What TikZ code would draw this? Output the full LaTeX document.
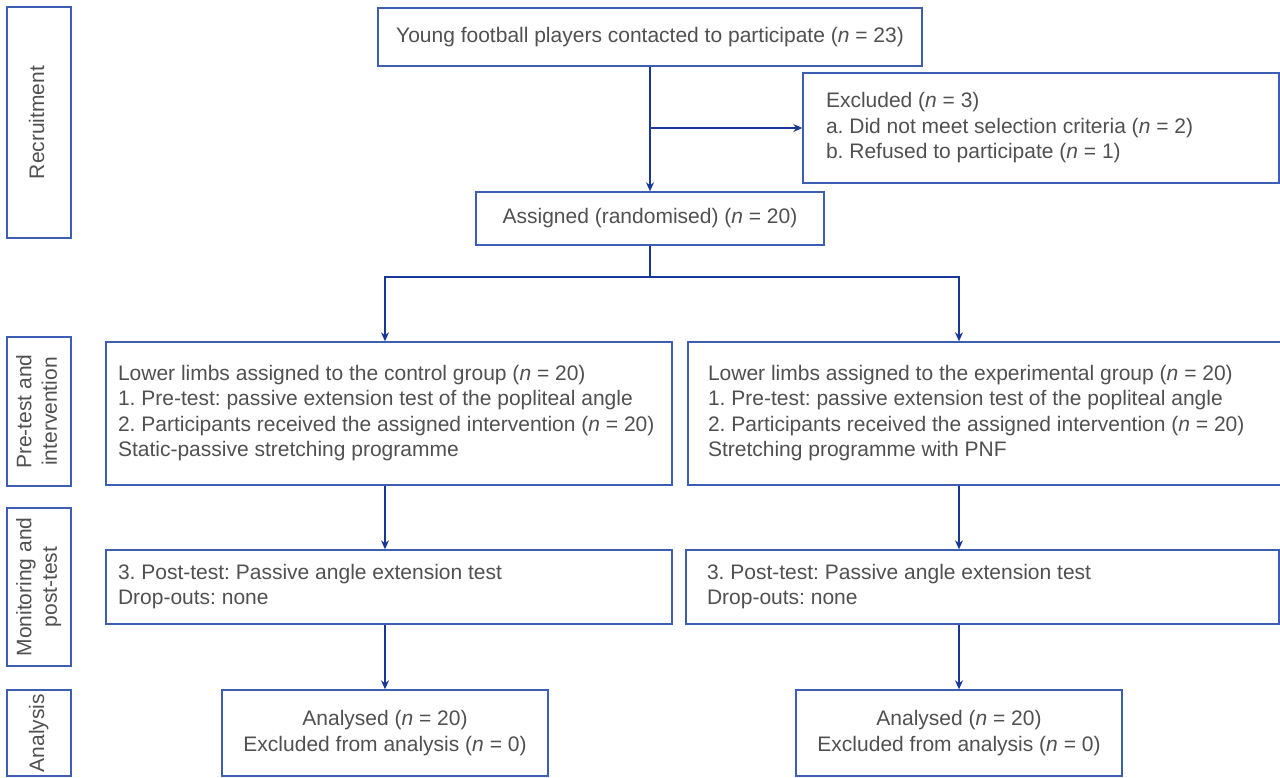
\documentclass[tikz,border=0pt]{standalone}
\usepackage{fontspec}
\setmainfont{Liberation Sans}
\usetikzlibrary{arrows.meta}
\definecolor{bord}{RGB}{60,95,180}
\definecolor{conn}{RGB}{25,55,150}
\definecolor{txt}{RGB}{80,80,80}
\frenchspacing
\newcommand\leftlines[2]{\makebox[#1][l]{\begin{tabular}{@{}l@{}}#2\end{tabular}}}
\newcommand\vlines[1]{\rotatebox{90}{\begin{tabular}{@{}c@{}}#1\end{tabular}}}
\begin{document}
\frenchspacing
\begin{tikzpicture}[x=0.5pt,y=-0.5pt,
  box/.style={draw=bord, line width=0.7pt, text=txt, inner sep=0pt,
    font=\fontsize{10.5}{12.75}\selectfont\frenchspacing},
  arr/.style={draw=conn, line width=0.65pt, -{Stealth[length=4.5pt,width=4pt]}},
  ln/.style={draw=conn, line width=0.65pt}]
\useasboundingbox (0,0) rectangle (1280,777);
\clip (0,0) rectangle (1280,777);

% side labels
\node[box, minimum width=32pt, minimum height=115.5pt] (lrec) at (39,122.5) {\vlines{Recruitment}};
\node[box, minimum width=32pt, minimum height=74.5pt] (lpre) at (39,411.5) {\vlines{Pre-test and\\intervention}};
\node[box, minimum width=32pt, minimum height=79pt] (lmon) at (39,587) {\vlines{Monitoring and\\post-test}};
\node[box, minimum width=32pt, minimum height=43pt] (lana) at (39,733) {\vlines{Analysis}};

% main boxes
\node[box, minimum width=272pt, minimum height=29pt] (young) at (650,37)
  {Young football players contacted to participate (\textit{n} = 23)};
\node[box, minimum width=238pt, minimum height=55pt] (excl) at (1041,128)
  {\leftlines{215pt}{Excluded (\textit{n} = 3)\\a. Did not meet selection criteria (\textit{n} = 2)\\b. Refused to participate (\textit{n} = 1)}};
\node[box, minimum width=174pt, minimum height=26.5pt] (assig) at (650,218.5)
  {Assigned (randomised) (\textit{n} = 20)};

\node[box, minimum width=283pt, minimum height=71.5pt] (ctrl) at (389,413.5)
  {\leftlines{271pt}{Lower limbs assigned to the control group (\textit{n} = 20)\\
   1. Pre-test: passive extension test of the popliteal angle\\
   2. Participants received the assigned intervention (\textit{n} = 20)\\
   Static-passive stretching programme}};
\node[box, minimum width=306pt, minimum height=71.5pt] (expr) at (994,413.5)
  {\leftlines{286pt}{Lower limbs assigned to the experimental group (\textit{n} = 20)\\
   1. Pre-test: passive extension test of the popliteal angle\\
   2. Participants received the assigned intervention (\textit{n} = 20)\\
   Stretching programme with PNF}};

\node[box, minimum width=283pt, minimum height=37pt] (postC) at (389,587)
  {\leftlines{271pt}{3. Post-test: Passive angle extension test\\Drop-outs: none}};
\node[box, minimum width=296.5pt, minimum height=37pt] (postE) at (982.5,587)
  {\leftlines{275.5pt}{3. Post-test: Passive angle extension test\\Drop-outs: none}};

\node[box, minimum width=163pt, minimum height=43pt, align=center] (anaC) at (385,733)
  {Analysed (\textit{n} = 20)\\Excluded from analysis (\textit{n} = 0)};
\node[box, minimum width=163pt, minimum height=43pt, align=center] (anaE) at (959,733)
  {Analysed (\textit{n} = 20)\\Excluded from analysis (\textit{n} = 0)};

% connectors
\draw[arr] (young.south) -- (assig.north);
\draw[arr] (young.south |- excl.west) -- (excl.west);
\coordinate (split) at (650,277);
\draw[ln] (assig.south) -- (split);
\draw[arr] (split) -| (ctrl.north -| anaC.north);
\draw[arr] (split) -| (expr.north -| anaE.north);
\draw[arr] (ctrl.south -| anaC.north) -- (postC.north -| anaC.north);
\draw[arr] (expr.south -| anaE.north) -- (postE.north -| anaE.north);
\draw[arr] (postC.south -| anaC.north) -- (anaC.north);
\draw[arr] (postE.south -| anaE.north) -- (anaE.north);
\end{tikzpicture}
\end{document}
